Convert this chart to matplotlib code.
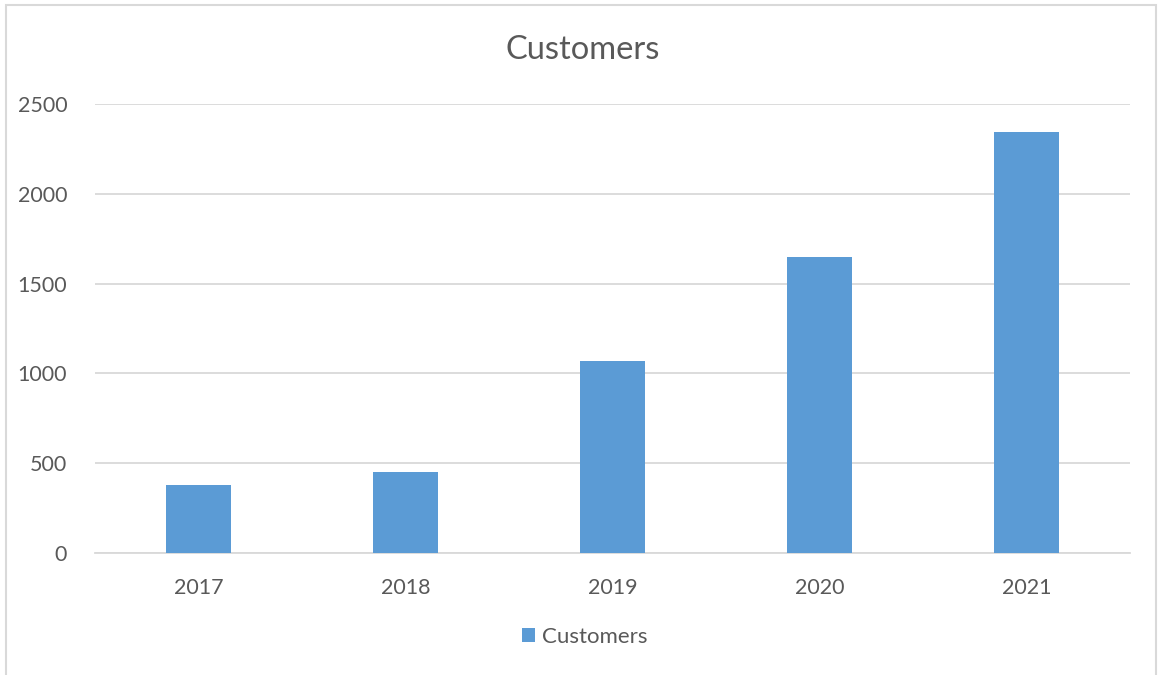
import matplotlib
matplotlib.use("Agg")
import matplotlib.pyplot as plt
from matplotlib.patches import Rectangle

years = ["2017", "2018", "2019", "2020", "2021"]
customers = [380, 450, 1070, 1650, 2345]
yticks = [0, 500, 1000, 1500, 2000, 2500]

bar_color = "#5B9BD5"
text_color = "#595959"
grid_color = "#D9D9D9"

plt.rcParams['font.family'] = ['Lato', 'DejaVu Sans']

fig = plt.figure(figsize=(11.58, 6.75), dpi=100)
ax = fig.add_axes([95 / 1158, 1 - 553 / 675, (1130 - 95) / 1158, (553 - 104) / 675])

x = list(range(len(years)))
ax.bar(x, customers, width=0.31, color=bar_color, label="Customers", zorder=3)

ax.set_xlim(-0.5, len(years) - 0.5)
ax.set_ylim(0, 2500)
ax.set_yticks(yticks)
ax.set_xticks(x)
ax.set_xticklabels(years)
ax.grid(axis="y", color=grid_color, linewidth=1.3, zorder=0)

for side in ["top", "right", "left"]:
    ax.spines[side].set_visible(False)
ax.spines["bottom"].set_color(grid_color)
ax.spines["bottom"].set_linewidth(1.3)

ax.tick_params(axis="both", length=0, labelsize=15.5, labelcolor=text_color)
ax.tick_params(axis="y", pad=20)
ax.tick_params(axis="x", pad=18)

fig.text(0.503, 1 - 50 / 675, "Customers", ha="center", va="center",
         fontsize=23.5, color=text_color)

fig.legend(loc="center", bbox_to_anchor=(0.505, 1 - 637 / 675), frameon=False,
           fontsize=16, labelcolor=text_color, handlelength=0.6, handleheight=0.6,
           handletextpad=0.3)

# outer chart border
fig.patches.append(Rectangle((6 / 1158, -0.02), 1150 / 1158, 1 - 5 / 675 + 0.02,
                             transform=fig.transFigure, fill=False,
                             edgecolor=grid_color, linewidth=1.5))

fig.savefig("out.png", dpi=100, facecolor="white")
